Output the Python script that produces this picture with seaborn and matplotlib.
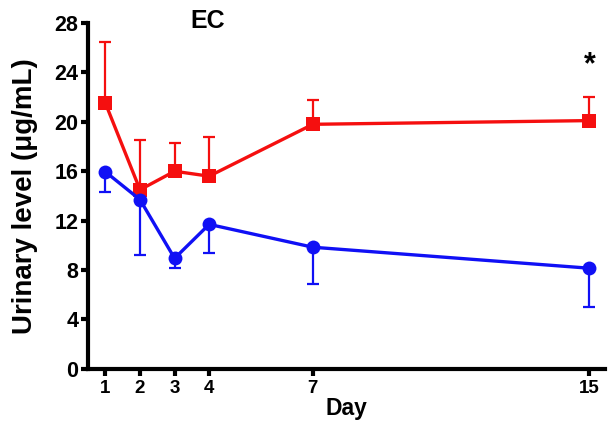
import matplotlib
matplotlib.use('Agg')
import matplotlib.pyplot as plt
import seaborn as sns
import pandas as pd
import numpy as np

# Data
days = [1, 2, 3, 4, 7, 15]
red_mean = [21.5, 14.5, 16.0, 15.6, 19.8, 20.1]
red_upper = [26.5, 18.5, 18.3, 18.8, 21.8, 22.0]
blue_mean = [15.95, 13.7, 8.95, 11.7, 9.85, 8.15]
blue_lower = [14.3, 9.2, 8.2, 9.35, 6.85, 5.05]
y_ticks = [0, 4, 8, 12, 16, 20, 24, 28]

red = '#f50f0f'
blue = '#1010f5'

sns.set_style('ticks')
plt.rcParams['font.family'] = ['Liberation Sans', 'DejaVu Sans']
plt.rcParams['font.weight'] = 'bold'
plt.rcParams['text.color'] = 'black'
plt.rcParams['axes.labelcolor'] = 'black'
plt.rcParams['xtick.color'] = 'black'
plt.rcParams['ytick.color'] = 'black'

df = pd.DataFrame({
    'day': days * 2,
    'value': red_mean + blue_mean,
    'group': ['red'] * len(days) + ['blue'] * len(days),
})

fig = plt.figure(figsize=(6.08, 4.34), dpi=100)
ax = fig.add_axes([0.145, 0.15, 0.85, 0.797])

# one-sided error bars
ax.errorbar(days, red_mean, yerr=[np.zeros(len(days)), np.array(red_upper) - np.array(red_mean)],
            fmt='none', ecolor=red, elinewidth=1.6, capsize=4.5, capthick=1.6, zorder=2)
ax.errorbar(days, blue_mean, yerr=[np.array(blue_mean) - np.array(blue_lower), np.zeros(len(days))],
            fmt='none', ecolor=blue, elinewidth=1.6, capsize=4.5, capthick=1.6, zorder=2)

sns.lineplot(data=df, x='day', y='value', hue='group', style='group',
             palette={'red': red, 'blue': blue},
             markers={'red': 's', 'blue': 'o'}, dashes=False,
             markersize=10, markeredgewidth=0, linewidth=2.4,
             legend=False, ax=ax, zorder=3)

ax.set_xlim(0.5, 15.45)
ax.set_ylim(0, 28)
ax.set_xticks(days)
ax.set_yticks(y_ticks)
ax.tick_params(axis='y', labelsize=15.5, width=3, length=5, pad=2, colors='black')
ax.tick_params(axis='x', labelsize=13.5, width=3, length=5, pad=3, colors='black')
for lab in ax.get_xticklabels() + ax.get_yticklabels():
    lab.set_fontweight('bold')

for side in ['left', 'bottom']:
    ax.spines[side].set_linewidth(3)
    ax.spines[side].set_color('black')
sns.despine(ax=ax)

ax.set_xlabel('Day', fontsize=16.5, fontweight='bold', labelpad=0, color='black')
ax.set_ylabel('Urinary level (\u03bcg/mL)', fontsize=20, fontweight='bold', color='black')
ax.yaxis.label.set_va('center')
ax.yaxis.set_label_coords(-0.122, 0.5)
ax.text(3.95, 28.15, 'EC', fontsize=18, fontweight='bold', ha='center', va='center',
        color='black', clip_on=False)
ax.text(15, 24.6, '*', fontsize=22, fontweight='bold', ha='center', va='center', color='black')

fig.savefig('out.png', dpi=100)
